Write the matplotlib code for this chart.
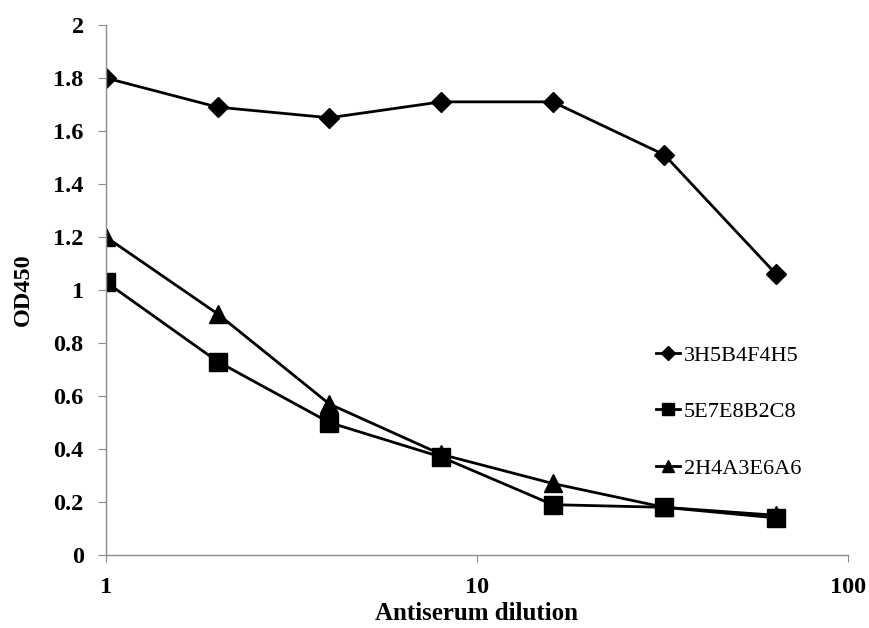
import matplotlib.pyplot as plt
from matplotlib.ticker import FixedLocator, NullLocator, FixedFormatter

# dilution steps and OD450 readings for each antibody clone
dilution = [1, 2, 4, 8, 16, 32, 64]
od_3h5b4f4h5 = [1.80, 1.69, 1.65, 1.71, 1.71, 1.51, 1.06]
od_5e7e8b2c8 = [1.03, 0.73, 0.50, 0.37, 0.19, 0.18, 0.14]
od_2h4a3e6a6 = [1.20, 0.91, 0.57, 0.38, 0.27, 0.18, 0.15]
y_ticks = [0, 0.2, 0.4, 0.6, 0.8, 1, 1.2, 1.4, 1.6, 1.8, 2]
y_tick_labels = ['0', '0.2', '0.4', '0.6', '0.8', '1', '1.2', '1.4', '1.6', '1.8', '2']
x_ticks = [1, 10, 100]
x_tick_labels = ['1', '10', '100']

plt.rcParams['font.family'] = ['Liberation Serif', 'DejaVu Serif']

fig = plt.figure(figsize=(8.7, 6.28), dpi=100)
ax = fig.add_axes([0.1218, 0.1162, 0.8529, 0.844])

ax.plot(dilution, od_3h5b4f4h5, color='black', lw=2.0, marker='D', ms=10, label='3H5B4F4H5')
ax.plot(dilution, od_5e7e8b2c8, color='black', lw=2.0, marker='s', ms=12.5, label='5E7E8B2C8')
ax.plot(dilution, od_2h4a3e6a6, color='black', lw=2.0, marker='^', ms=12.5, label='2H4A3E6A6')

ax.set_xscale('log')
ax.set_xlim(1, 100)
ax.set_ylim(0, 2)
ax.xaxis.set_major_locator(FixedLocator(x_ticks))
ax.xaxis.set_major_formatter(FixedFormatter(x_tick_labels))
ax.xaxis.set_minor_locator(NullLocator())
ax.set_yticks(y_ticks)
ax.set_yticklabels(y_tick_labels)

for side in ['top', 'right']:
    ax.spines[side].set_visible(False)
for side in ['left', 'bottom']:
    ax.spines[side].set_color('#8c8c8c')
    ax.spines[side].set_linewidth(1.0)

ax.tick_params(axis='y', direction='out', length=6, color='#8c8c8c', labelsize=17.5, pad=10)
ax.tick_params(axis='x', direction='out', length=5, color='#8c8c8c', labelsize=17.5, pad=11)
for lbl in ax.get_xticklabels() + ax.get_yticklabels():
    lbl.set_fontweight('bold')

ax.set_xlabel('Antiserum dilution', fontsize=18, fontweight='bold', labelpad=3)
ax.set_ylabel('OD450', fontsize=17.5, fontweight='bold', labelpad=14)

ax.legend(loc='center left', bbox_to_anchor=(0.726, 0.27), frameon=False,
          borderpad=0, fontsize=16, handlelength=1.1, handletextpad=0.15,
          labelspacing=1.62, markerscale=0.72)

fig.savefig('out.png', dpi=100, facecolor='white')
